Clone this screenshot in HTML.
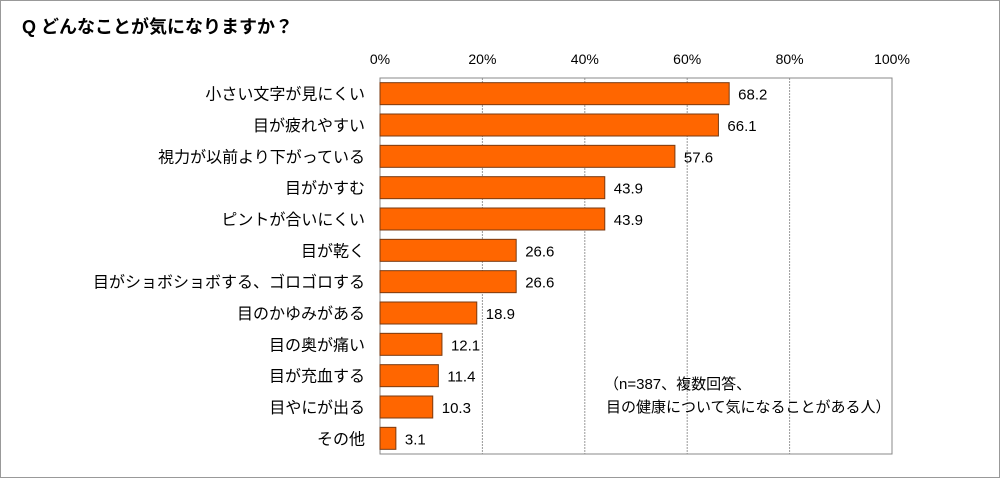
<!DOCTYPE html>
<html><head><meta charset="utf-8"><style>
body{margin:0;background:#fff;}
svg{display:block;font-family:"Liberation Sans","Noto Sans CJK JP",sans-serif;}
</style></head><body>
<svg id="chart" width="1000" height="479">
<rect x="0.5" y="0.5" width="999" height="477" fill="none" stroke="#999"/>
<text x="22" y="33" font-size="18" font-weight="bold" fill="#000">Q どんなことが気になりますか？</text>
<g id="grid"></g><g id="bars"></g><g id="labels"></g>
<text x="604" y="389" font-size="15">（n=387、複数回答、</text>
<text x="606" y="412" font-size="15">目の健康について気になることがある人）</text>
</svg>
<script>
const categories=["小さい文字が見にくい","目が疲れやすい","視力が以前より下がっている","目がかすむ","ピントが合いにくい","目が乾く","目がショボショボする、ゴロゴロする","目のかゆみがある","目の奥が痛い","目が充血する","目やにが出る","その他"];
const values=[68.2,66.1,57.6,43.9,43.9,26.6,26.6,18.9,12.1,11.4,10.3,3.1];
const ticks=[0,20,40,60,80,100];
const NS="http://www.w3.org/2000/svg";
const L=380,R=892,T=78,B=454;
const x=v=>L+(v/100)*(R-L);
const rowH=(B-T)/categories.length;
const y=i=>T+i*rowH;
function mk(t,a,p){const e=document.createElementNS(NS,t);for(const k in a)e.setAttribute(k,a[k]);p.appendChild(e);return e;}
const g=document.getElementById('grid'),gb=document.getElementById('bars'),gl=document.getElementById('labels');
ticks.forEach(t=>{
 if(t>0&&t<100){const ln=mk('line',{x1:x(t),x2:x(t),y1:T,y2:B,stroke:'#999','stroke-dasharray':'2,1'},g);
 
 }
 const tx=mk('text',{x:x(t),y:64,'font-size':14,'text-anchor':'middle'},g);tx.textContent=t+'%';
 
 
});
const fr=mk('rect',{x:L,y:T,width:R-L,height:B-T,fill:'none',stroke:'#888'},g);


categories.forEach((c,i)=>{
 const cy=y(i)+rowH/2;
 const r=mk('rect',{x:L,y:cy-11,width:x(values[i])-L,height:22,fill:'#ff6600',stroke:'#7a3a10','stroke-width':1},gb);
 
 
 const v=mk('text',{x:x(values[i])+9,y:cy+6,'font-size':15},gl);v.textContent=values[i].toFixed(1);
 
 
 const t=mk('text',{x:365,y:cy+6,'font-size':16,'text-anchor':'end'},gl);t.textContent=c;
 
 
});
</script>
</body></html>
